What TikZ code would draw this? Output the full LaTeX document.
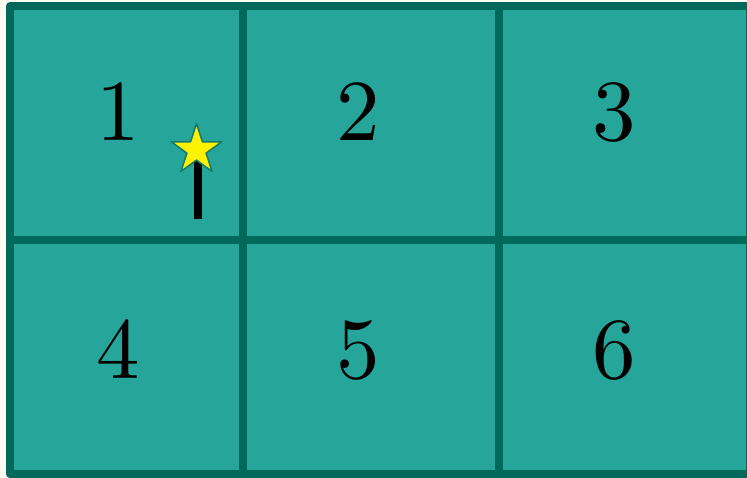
\documentclass[tikz,border=0pt]{standalone}
\usetikzlibrary{shapes.geometric}
\usepackage{xcolor}
\definecolor{paper}{HTML}{FFFBF0}
\definecolor{cellfill}{HTML}{26A69A}
\definecolor{gridline}{HTML}{00695C}
\definecolor{staredge}{HTML}{1A7A6E}

\begin{document}
\begin{tikzpicture}[x=0.02cm,y=-0.02cm,line join=round,
  cellnum/.style={anchor=base,inner sep=0pt,scale=4.95},
  wand/.style={line width=0.16cm,black},
  wandstar/.style={star,star points=5,star point ratio=2.618,draw=staredge,fill=yellow,line width=0.9pt,inner sep=0pt,minimum size=1.06cm}]
\useasboundingbox (0,0) rectangle (747,477);
\fill[paper] (0,0) rectangle (747,477);
\begin{scope}
\clip (0,0) rectangle (747,477);
\filldraw[fill=cellfill,draw=gridline,line width=0.16cm] (10,6) rectangle (750,474);
\draw[gridline,line width=0.16cm] (10,240) -- (750,240);
\draw[gridline,line width=0.16cm] (242.5,6) -- (242.5,474);
\draw[gridline,line width=0.16cm] (499,6) -- (499,474);
\end{scope}
% cell numbers
\node[cellnum] (n1) at (118.5,140) {1};
\node[cellnum] (n2) at (358.5,140) {2};
\node[cellnum] (n3) at (614.5,140) {3};
\node[cellnum] (n4) at (118.5,378) {4};
\node[cellnum] (n5) at (358.5,378) {5};
\node[cellnum] (n6) at (614.5,378) {6};
% wand
\coordinate (wandtip) at (198.3,158);
\coordinate (wandend) at (198.3,219);
\draw[wand] (wandtip) -- (wandend);
\node[wandstar] (wstar) at (196.5,150) {};
\end{tikzpicture}
\end{document}
